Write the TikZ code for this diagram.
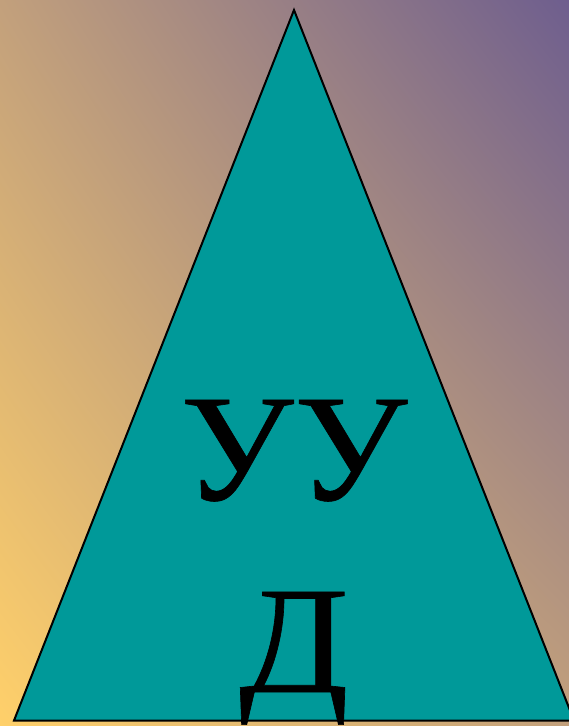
\documentclass[tikz,border=0pt]{standalone}
\usepackage{fontspec}
\setmainfont{Liberation Serif}
\newfontfamily\heavyserif[BoldFont={Liberation Serif}, BoldFeatures={FakeBold=0.4}]{Liberation Serif}
\usetikzlibrary{shadings}
\definecolor{bgLL}{HTML}{FFD06A}
\definecolor{bgUR}{HTML}{6E5E8E}
\definecolor{bgMid}{HTML}{C2A07C}
\definecolor{teal}{HTML}{009999}
\tikzset{
  tri/.style={fill=teal, draw=black, line width=2pt, line join=miter},
  bigtext/.style={inner sep=0pt, anchor=base, font=\fontsize{153}{190}\heavyserif\bfseries, text=black}
}
\begin{document}
\begin{tikzpicture}[x=1pt,y=-1pt]
\useasboundingbox (0,0) rectangle (569,726);
\clip (0,0) rectangle (569,726);
\shade[lower left=bgLL, upper right=bgUR, upper left=bgMid, lower right=bgMid] (0,0) rectangle (569,726);
\coordinate (apex) at (294,10);
\coordinate (bl) at (14,720.5);
\coordinate (br) at (574,720.5);
\draw[tri] (apex) -- (br) -- (bl) -- cycle;
\node[bigtext] (uu) at (294,500) {\scalebox{1.05}[1]{УУ}};
\node[bigtext] (d) at (294,692) {\scalebox{1.05}[1]{Д}};
\end{tikzpicture}
\end{document}
